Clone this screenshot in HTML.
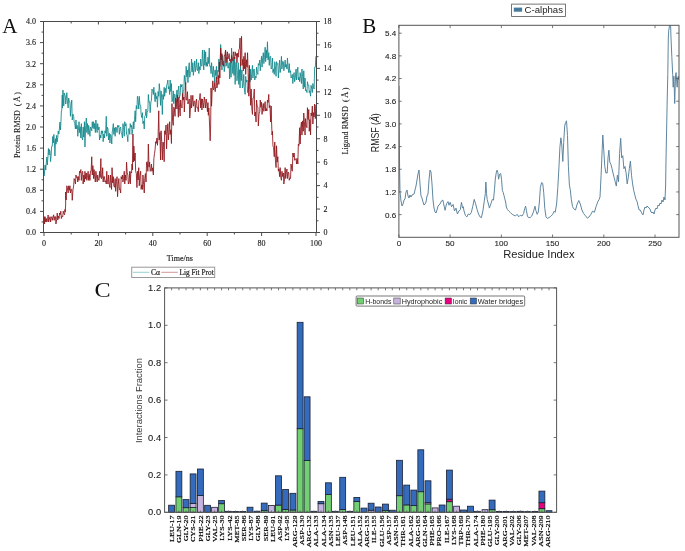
<!DOCTYPE html>
<html><head><meta charset="utf-8"><title>Figure</title>
<style>html,body{margin:0;padding:0;background:#fff;width:685px;height:551px;overflow:hidden}svg{display:block;will-change:transform;filter:blur(0.3px)}</style>
</head><body>
<svg width="685" height="551" viewBox="0 0 685 551"><filter id="bl" x="-5%" y="-5%" width="110%" height="110%"><feGaussianBlur stdDeviation="0.3"/></filter>
<polyline points="43.55,164 44.05,176 44.65,171 45.15,165 45.75,170 46.25,163 46.85,157 47.35,165 47.95,157 48.45,148.5 49.05,155 49.55,149.6 50.05,152 50.55,161.6 51.15,155 51.65,146.3 52.25,146.3 52.75,136.5 53.35,143 53.85,134.4 54.45,143 54.95,156 55.55,138.7 56.05,144.2 56.65,135.4 57.15,142 57.75,137.6 58.25,131 58.85,134 59.35,129 59.95,122 60.45,130 60.85,123.6 61.35,112 61.75,110 62.25,95 62.45,108 62.95,90 63.75,106 64.25,93 65.25,96 65.75,104 66.85,92.7 67.35,101 68.15,108 68.65,98 69.3,101.71 69.95,101.8 70.45,116.3 71.1,105.96 71.75,100 72.25,120 72.95,114.13 73.65,116.3 74.15,121.7 74.8,123.72 75.45,129 75.95,120 76.6,128.79 77.25,125.4 77.75,136.3 78.4,130.42 79.05,121.7 79.55,132.6 80.2,126.73 80.85,138 81.35,123.6 82,137.58 82.65,140 83.15,127 83.8,137.11 84.45,121.7 84.95,147 85.65,125.51 86.35,118 86.85,132.6 87.5,123.54 88.15,134.4 88.65,125.4 89.3,130.05 89.95,136.3 90.45,127 91.1,128.11 91.75,130.8 92.25,121.7 92.9,128.08 93.55,121.7 94.05,129 94.7,123.51 95.35,132.6 95.85,120 96.5,126.94 97.15,132.6 97.65,123.6 98.35,129.9 99.05,127 99.55,140 100.2,135 100.85,138 101.35,130.8 102,133.66 102.65,130.8 103.15,141.7 103.8,134.11 104.45,138 104.95,130.8 105.6,133.16 106.25,116.3 106.75,136.3 107.4,127.26 108.05,129 108.55,140 109.25,133.15 109.95,143 110.45,134.4 111.1,135.69 111.75,144 112.25,132 113.35,123.6 113.85,134.4 114.5,127.84 115.15,136.3 115.65,127 116.35,127.89 117.05,132.6 117.55,125.4 118.2,126.96 118.85,125.4 119.35,134.4 120,128.17 120.65,127 121.15,132.6 121.8,134.07 122.45,138 122.95,123.6 123.6,127.63 124.25,136.3 124.75,121.7 125.4,126.06 126.05,123.6 126.55,134.4 127.2,135.51 127.85,141.7 128.35,129 129.05,128.42 129.75,134.4 130.25,123.6 130.9,127.18 131.55,125.4 132.05,134.4 132.7,129.4 133.35,121.7 133.85,129 134.5,119.32 135.15,110.8 135.65,121.7 136.3,105.58 136.95,109 137.45,96.3 138.1,100.04 138.75,109 139.25,96.3 139.95,105.18 140.65,105.4 141.15,114.5 141.8,117.72 142.45,112.7 142.95,123.6 143.6,121.1 144.25,129 144.75,116.3 145.4,115.32 146.05,109 146.55,118 147.2,112.21 147.85,110.8 148.35,94.5 149,102.22 149.65,101.8 150.15,112.7 150.8,102.97 151.45,100 151.95,89 152.65,90.49 153.35,94.5 153.85,87.3 154.5,96.57 155.15,101.8 155.65,92.7 156.3,98.87 156.95,96.3 157.45,107.2 158.1,91.5 158.75,96.3 159.25,83.6 159.9,91.2 160.55,105.4 161.05,90.9 161.7,97.97 162.35,114.5 162.85,94.5 163.5,99.27 164.15,87.3 164.65,96.3 165.35,88.31 166.05,92.7 166.55,85.4 167.2,83.96 167.85,80 168.35,89 169,86.43 169.65,94.5 170.15,80 170.8,91.47 171.45,83.6 171.95,101.8 172.6,100.13 173.25,90.9 173.75,103.6 174.4,94.24 175.05,94.5 175.55,109 176.25,98.25 176.95,90 177.45,101.8 178.1,90.87 178.75,86 179.25,98 180.15,95.3 180.65,84.4 181.35,87.02 182.05,84.4 182.55,99 183.2,91.77 183.85,90 184.35,75.4 185,81.08 185.65,84.4 186.15,66.3 186.8,76.86 187.45,70 187.95,82.6 188.6,68.09 189.25,62.7 189.75,77.2 190.4,72.11 191.05,71.7 191.55,59 192.2,71.9 192.85,62.7 193.35,75.4 194.05,68.96 194.75,60.9 195.25,71.7 195.9,67.41 196.55,59 197.05,70 197.7,70.7 198.35,62.7 198.85,73.6 199.5,66.73 200.15,70 200.65,59 201.3,65.7 201.95,66.3 202.45,50 203.1,62.03 203.75,70 204.25,50 204.95,65.25 205.65,51.8 206.15,66.3 206.8,62.15 207.45,66.3 207.95,57.2 208.6,63.53 209.25,48.1 209.75,66.3 210.4,66.06 211.05,73.6 211.55,62.7 212.2,70.58 212.85,77.2 213.35,66.3 214,72.92 214.65,82.6 215.15,70 215.8,75.58 216.45,66.3 216.95,79 217.65,70.42 218.35,71.7 218.85,59 219.5,65.62 220.15,66.3 220.65,44.5 221.3,57.43 221.95,70 222.45,55.4 223.1,65.32 223.75,60.9 224.25,71.7 224.9,65.89 225.55,50 226.05,66.3 226.7,63.12 227.35,57.2 227.85,68.1 228.5,67.85 229.15,62.7 229.65,79 230.35,61.85 231.05,77.2 231.55,48.1 232.2,63.97 232.85,73.6 233.35,57.2 234,75.43 234.65,57.2 235.15,84.4 235.8,62.42 236.45,62.7 236.95,80.8 237.6,75.49 238.25,62.7 238.75,84.4 239.4,69.61 240.05,88 240.55,66.3 241.25,80.62 241.95,70 242.45,88 243.1,85.05 243.75,74.4 244.25,88 245.15,94.4 245.65,76.3 246.35,82.12 247.05,80 247.55,92.6 248.2,87.33 248.85,89 249.35,74.4 250,81.99 250.65,69 251.15,80 251.8,73.88 252.45,65.4 252.95,78 253.6,69.67 254.25,69 254.75,80 255.4,76.47 256.05,78 256.55,67 257.2,72.59 257.85,74.4 258.35,63.6 259.05,65.27 259.75,60 260.25,70.8 260.9,63.15 261.55,56.3 262.05,67.2 262.7,57.46 263.35,52.7 263.85,63.6 264.5,57.58 265.15,47.2 265.65,61.7 266.3,49.91 266.95,58 267.45,41.8 268.1,60.05 268.75,52.7 269.25,65.4 269.95,56.53 270.65,56.3 271.15,69 271.8,68.05 272.45,58 272.95,72.6 273.6,68.95 274.25,74.4 274.75,61.7 275.4,66.44 276.05,76.3 276.55,61.7 277.2,64.32 277.85,63.6 278.35,78 279,68.06 279.65,60 280.15,72.6 280.8,67.81 281.45,56.3 281.95,69 282.65,61.32 283.35,61.7 283.85,70.8 284.5,65.77 285.15,60 285.65,67.2 286.3,64.5 286.95,69 287.45,58 288.1,68.26 288.75,72.6 289.25,63.6 289.9,72.45 290.55,70.8 291.05,78 291.7,76.51 292.35,74.4 292.85,83.5 293.5,74.49 294.15,72.6 294.65,81.7 295.35,77.55 296.05,69 296.55,80 297.2,71.88 297.85,67.2 298.35,80 299,77.1 299.65,81.7 300.15,72.6 300.8,77.78 301.45,83.5 301.95,69 302.6,76.68 303.25,89 303.75,70.8 304.4,87.19 305.05,78 305.55,90.8 306.25,89.88 306.95,92.6 307.45,81.7 308.1,85.36 308.75,85.3 309.25,92.6 309.9,90.76 310.55,96.2 311.05,85.3 311.7,88.41 312.35,92.6 312.85,83.5 313.5,87.76 314.15,89 314.65,67.2 315.35,67.2 315.85,56.3" fill="none" stroke="#13868a" stroke-width="0.85" filter="url(#bl)" stroke-linejoin="round"/>
<polyline points="43.55,224 44.05,216.7 44.55,224 45.05,216.7 45.7,222 46.35,218.5 46.85,222 47.5,219.76 48.15,215 48.65,222 49.35,219.07 50.05,216.7 50.55,222 51.2,217.83 51.85,216.7 52.35,220.3 53,217.01 53.65,214.8 54.15,220.3 54.8,216.52 55.45,216.7 55.95,224 56.6,219.63 57.25,213 57.75,220 58.4,216.19 59.05,218.5 59.55,213 60.2,214.58 60.85,211.2 61.35,218.5 62.05,215.85 62.75,216.7 63.25,211.2 63.9,213.71 64.55,214.8 65.05,209.4 65.15,212 65.65,205 65.65,192 66.15,200 66.35,194.9 66.85,185.8 67.5,189.02 68.15,193 68.65,185.8 69.3,190.32 69.95,185.8 70.45,193 71.1,189.13 71.75,189.4 72.25,200.3 72.95,190.1 73.65,185.8 74.15,178.6 74.8,180.51 75.45,184 75.95,175 76.6,177.61 77.25,176.7 77.75,182 78.4,176.58 79.05,180.4 79.55,171.3 80.2,172.96 80.85,169.5 81.35,180.4 82,172.51 82.65,171.3 83.15,184 83.8,175.05 84.45,182 84.95,171.3 85.65,179 86.35,173 86.85,180.4 87.5,175.41 88.15,171.3 88.65,180.4 89.3,174.43 89.95,180.4 90.45,171.3 91.1,171.41 91.75,156.8 92.25,175 92.9,165.68 93.55,178.6 94.05,169.5 94.7,176.99 95.35,182 95.85,171.3 96.5,175.72 97.15,182 97.65,175 98.35,179.87 99.05,180.4 99.55,171.3 100.2,177.41 100.85,158.6 101.35,178.6 102,178.24 102.65,167.7 103.15,182 103.8,176.44 104.45,176.7 104.95,182 105.6,180.73 106.25,184 106.75,171.3 107.4,182.69 108.05,184 108.55,175 109.25,184.28 109.95,187.6 110.45,175 111.55,189.4 112.05,167.7 112.7,182.97 113.35,176.7 113.85,185.8 114.5,187.24 115.15,178.6 115.65,191.3 116.35,181.81 117.05,176.7 117.55,196.7 118.2,184.93 118.85,178.6 119.35,189.4 120,189.12 120.65,193 121.15,176.7 121.8,179.03 122.45,175 122.95,182 123.6,178.3 124.25,171.3 124.75,184 125.4,175.01 126.05,180.4 126.55,162.2 127.2,172.71 127.85,175 128.35,184 129.05,182.05 129.75,171.3 130.25,184 130.9,171.71 131.55,173 132.05,164 132.45,170 132.95,134 133.35,162 133.85,146 134.5,160.65 135.15,153 135.65,171.3 136.3,173.47 136.95,187.6 137.45,171.3 138.1,180.02 138.75,167.7 139.25,185.8 139.95,175.59 140.65,171.3 141.15,189.4 141.8,184.81 142.45,189.4 142.95,175 143.6,184.58 144.25,193 144.75,178.6 145.4,173.59 146.05,182 146.55,162.2 147.2,161.72 147.85,171.3 148.35,144 149,167.08 149.65,162.2 150.15,171.3 150.8,170.16 151.45,164 151.95,171.3 152.65,167.81 153.35,175 153.85,158.6 154.5,153.56 155.15,149 155.65,141.7 156.3,143.33 156.95,138 157.45,145.3 158.1,136.71 158.75,110.8 159.25,140 159.9,132.53 160.55,160 161.05,130.8 161.7,141.44 162.35,160 162.85,142 163.5,142.83 164.15,161.7 164.65,130.8 165.35,134.45 166.05,125 166.55,149 167.2,133.15 167.85,123.6 168.35,140 169,132.25 169.65,121.7 170.15,134.4 170.8,129.78 171.45,143.5 171.95,103.6 172.6,121.22 173.25,125.4 173.75,107.2 174.4,108.77 175.05,116.3 175.55,98 176.25,99.36 176.95,109 177.45,95.3 178.35,117.2 178.85,97.3 179.5,107.59 180.15,116 180.65,100 181.35,106.49 182.05,108 182.55,93.5 183.2,100.17 183.85,97 184.35,112 185,95.95 185.65,82.6 186.15,100 186.8,100.04 187.45,91.7 187.95,104 188.6,101.77 189.25,99 189.75,118 190.4,109.09 191.05,95.3 191.55,108 192.2,101.71 192.85,95.3 193.35,106.2 194.05,101.61 194.75,100.8 195.25,112 195.9,102.67 196.55,99 197.05,108 197.7,107.68 198.35,111.7 198.85,100.8 199.5,99.54 200.15,93.5 200.65,108 201.3,98.76 201.95,110 202.45,99 203.1,102.99 203.75,108 204.25,97 204.95,101.07 205.65,108 206.15,99 206.8,103.5 207.45,111.7 207.95,102.6 208.35,115.3 208.85,108 209.25,117 209.75,130 210.15,140.8 210.65,126 211.05,88 211.55,106.2 212.2,89.74 212.85,80.8 213.35,90 214,88.75 214.65,82.6 215.15,91.7 215.8,86.77 216.45,77.2 216.95,88 217.65,82.67 218.35,75.4 218.85,84.4 219.35,62 219.85,78 220.15,66.3 220.65,48 221.3,59.91 221.95,53.6 222.45,64.5 223.1,64.1 223.75,66.3 224.25,55.4 224.9,55.6 225.55,50 226.05,62.7 226.7,56.76 227.35,51.8 227.85,59 228.5,57.67 229.15,53.6 229.65,60.9 230.35,59.37 231.05,62.7 231.55,55.4 232.2,59.48 232.85,60.9 233.35,51.8 234,56.55 234.65,59 235.15,51.8 235.8,55.65 236.45,53.6 236.95,62.7 237.6,53.22 238.25,57.2 238.75,50 239.4,48.7 240.05,38 240.55,66.3 241.55,36.3 242.05,65.4 242.7,59.29 243.35,70.8 243.85,56.3 244.5,68.75 245.15,52.7 245.65,74.4 246.35,59.75 247.05,67.2 247.55,52.7 248.2,74.81 248.85,96.2 249.35,65.4 250,85.43 250.65,105.3 251.15,89 251.8,107.97 252.45,114.4 252.95,98 253.6,97.91 254.25,89 254.75,116 255.4,112.12 256.05,122 256.55,100 257.2,106.2 257.85,107 258.35,126 259.05,113.79 259.75,111.3 260.25,100 260.9,107.33 261.55,102.3 262.05,114.4 262.7,107.13 263.35,103.5 263.85,111.3 264.5,105.61 265.15,101.7 265.65,111 266.3,108.55 266.95,111 267.45,100 268.1,102.44 268.75,94.4 269.25,107.7 269.95,105.36 270.65,122 271.15,106 271.55,122 272.05,135 272.45,131.3 272.95,145.8 273.6,147.71 274.25,156.7 274.75,142 275.4,159.85 276.05,167.6 276.55,145.8 277.2,162.11 277.85,156.7 278.35,171.2 279,169.07 279.65,176.7 280.15,167.6 280.8,177.45 281.45,180.3 281.95,171.2 282.65,176.56 283.35,173 283.85,184 284.5,178.76 285.15,167.6 285.65,178.5 286.3,172.44 286.95,169 287.45,178.5 288.1,172.07 288.75,173 289.25,180.3 289.9,178.09 290.55,178.5 291.05,164 291.7,169.41 292.35,171.2 292.85,153 293.5,157.06 294.15,153 294.65,160.3 295.35,159.47 296.05,158.5 296.55,164 297.2,158.52 297.85,164 298.35,144 299,145.54 299.65,127.7 300.15,144 300.8,127.11 301.45,122 301.95,135 302.6,120.89 303.25,131.3 303.75,113 304.4,121.83 305.05,135 305.55,118.6 306.25,125.89 306.95,127.7 307.45,107.7 308.1,119.58 308.75,109.5 309.25,131.3 309.9,119.52 310.55,135 311.05,113 311.7,115.8 312.35,106 312.85,124 313.5,112.62 314.15,116.8 314.65,104 315.35,118.6 315.85,105" fill="none" stroke="#8e1419" stroke-width="0.85" filter="url(#bl)" stroke-linejoin="round"/>
<rect x="43.5" y="21.5" width="273.0" height="211.0" fill="none" stroke="#4a4a4a" stroke-width="1"/>
<text x="36" y="235.3" font-family='"Liberation Serif", serif' font-size="8" text-anchor="end" fill="#1a1a1a" stroke="#1a1a1a" stroke-width="0.12">0.0</text>
<text x="36" y="214.2" font-family='"Liberation Serif", serif' font-size="8" text-anchor="end" fill="#1a1a1a" stroke="#1a1a1a" stroke-width="0.12">0.4</text>
<text x="36" y="193.1" font-family='"Liberation Serif", serif' font-size="8" text-anchor="end" fill="#1a1a1a" stroke="#1a1a1a" stroke-width="0.12">0.8</text>
<text x="36" y="172" font-family='"Liberation Serif", serif' font-size="8" text-anchor="end" fill="#1a1a1a" stroke="#1a1a1a" stroke-width="0.12">1.2</text>
<text x="36" y="150.9" font-family='"Liberation Serif", serif' font-size="8" text-anchor="end" fill="#1a1a1a" stroke="#1a1a1a" stroke-width="0.12">1.6</text>
<text x="36" y="129.8" font-family='"Liberation Serif", serif' font-size="8" text-anchor="end" fill="#1a1a1a" stroke="#1a1a1a" stroke-width="0.12">2.0</text>
<text x="36" y="108.7" font-family='"Liberation Serif", serif' font-size="8" text-anchor="end" fill="#1a1a1a" stroke="#1a1a1a" stroke-width="0.12">2.4</text>
<text x="36" y="87.6" font-family='"Liberation Serif", serif' font-size="8" text-anchor="end" fill="#1a1a1a" stroke="#1a1a1a" stroke-width="0.12">2.8</text>
<text x="36" y="66.5" font-family='"Liberation Serif", serif' font-size="8" text-anchor="end" fill="#1a1a1a" stroke="#1a1a1a" stroke-width="0.12">3.2</text>
<text x="36" y="45.4" font-family='"Liberation Serif", serif' font-size="8" text-anchor="end" fill="#1a1a1a" stroke="#1a1a1a" stroke-width="0.12">3.6</text>
<text x="36" y="24.3" font-family='"Liberation Serif", serif' font-size="8" text-anchor="end" fill="#1a1a1a" stroke="#1a1a1a" stroke-width="0.12">4.0</text>
<text x="323.5" y="235.3" font-family='"Liberation Serif", serif' font-size="8" fill="#1a1a1a" stroke="#1a1a1a" stroke-width="0.12">0</text>
<text x="323.5" y="211.86" font-family='"Liberation Serif", serif' font-size="8" fill="#1a1a1a" stroke="#1a1a1a" stroke-width="0.12">2</text>
<text x="323.5" y="188.41" font-family='"Liberation Serif", serif' font-size="8" fill="#1a1a1a" stroke="#1a1a1a" stroke-width="0.12">4</text>
<text x="323.5" y="164.97" font-family='"Liberation Serif", serif' font-size="8" fill="#1a1a1a" stroke="#1a1a1a" stroke-width="0.12">6</text>
<text x="323.5" y="141.52" font-family='"Liberation Serif", serif' font-size="8" fill="#1a1a1a" stroke="#1a1a1a" stroke-width="0.12">8</text>
<text x="323.5" y="118.08" font-family='"Liberation Serif", serif' font-size="8" fill="#1a1a1a" stroke="#1a1a1a" stroke-width="0.12">10</text>
<text x="323.5" y="94.63" font-family='"Liberation Serif", serif' font-size="8" fill="#1a1a1a" stroke="#1a1a1a" stroke-width="0.12">12</text>
<text x="323.5" y="71.19" font-family='"Liberation Serif", serif' font-size="8" fill="#1a1a1a" stroke="#1a1a1a" stroke-width="0.12">14</text>
<text x="323.5" y="47.74" font-family='"Liberation Serif", serif' font-size="8" fill="#1a1a1a" stroke="#1a1a1a" stroke-width="0.12">16</text>
<text x="323.5" y="24.3" font-family='"Liberation Serif", serif' font-size="8" fill="#1a1a1a" stroke="#1a1a1a" stroke-width="0.12">18</text>
<text x="44" y="246" font-family='"Liberation Serif", serif' font-size="8" text-anchor="middle" fill="#1a1a1a" stroke="#1a1a1a" stroke-width="0.12">0</text>
<text x="98.4" y="246" font-family='"Liberation Serif", serif' font-size="8" text-anchor="middle" fill="#1a1a1a" stroke="#1a1a1a" stroke-width="0.12">20</text>
<text x="152.8" y="246" font-family='"Liberation Serif", serif' font-size="8" text-anchor="middle" fill="#1a1a1a" stroke="#1a1a1a" stroke-width="0.12">40</text>
<text x="207.2" y="246" font-family='"Liberation Serif", serif' font-size="8" text-anchor="middle" fill="#1a1a1a" stroke="#1a1a1a" stroke-width="0.12">60</text>
<text x="261.6" y="246" font-family='"Liberation Serif", serif' font-size="8" text-anchor="middle" fill="#1a1a1a" stroke="#1a1a1a" stroke-width="0.12">80</text>
<text x="316" y="246" font-family='"Liberation Serif", serif' font-size="8" text-anchor="middle" fill="#1a1a1a" stroke="#1a1a1a" stroke-width="0.12">100</text>
<path d="M40 232.5H43.5M40 211.4H43.5M40 190.3H43.5M40 169.2H43.5M40 148.1H43.5M40 127H43.5M40 105.9H43.5M40 84.8H43.5M40 63.7H43.5M40 42.6H43.5M40 21.5H43.5M41.5 221.95H43.5M41.5 200.85H43.5M41.5 179.75H43.5M41.5 158.65H43.5M41.5 137.55H43.5M41.5 116.45H43.5M41.5 95.35H43.5M41.5 74.25H43.5M41.5 53.15H43.5M41.5 32.05H43.5M316.5 232.5H320M316.5 209.06H320M316.5 185.61H320M316.5 162.17H320M316.5 138.72H320M316.5 115.28H320M316.5 91.83H320M316.5 68.39H320M316.5 44.94H320M316.5 21.5H320M316.5 220.78H318.5M316.5 197.33H318.5M316.5 173.89H318.5M316.5 150.44H318.5M316.5 127H318.5M316.5 103.56H318.5M316.5 80.11H318.5M316.5 56.67H318.5M316.5 33.22H318.5M44 232.5V236M98.4 232.5V236M98.4 21.5V24.5M152.8 232.5V236M152.8 21.5V24.5M207.2 232.5V236M207.2 21.5V24.5M261.6 232.5V236M261.6 21.5V24.5M316 232.5V236M71.2 232.5V234.5M71.2 21.5V23.5M125.6 232.5V234.5M125.6 21.5V23.5M180 232.5V234.5M180 21.5V23.5M234.4 232.5V234.5M234.4 21.5V23.5M288.8 232.5V234.5M288.8 21.5V23.5" stroke="#4a4a4a" stroke-width="1" fill="none"/>
<text x="179.8" y="260.6" font-family='"Liberation Serif", serif' font-size="8" text-anchor="middle" fill="#1a1a1a" stroke="#1a1a1a" stroke-width="0.15">Time/ns</text>
<text transform="translate(19.6,125) rotate(-90)" font-family='"Liberation Serif", serif' font-size="8" text-anchor="middle" fill="#1a1a1a" stroke="#1a1a1a" stroke-width="0.12" textLength="66" lengthAdjust="spacingAndGlyphs">Protein RMSD ( Å )</text>
<text transform="translate(347.8,121) rotate(-90)" font-family='"Liberation Serif", serif' font-size="8" text-anchor="middle" fill="#1a1a1a" stroke="#1a1a1a" stroke-width="0.12" textLength="67" lengthAdjust="spacingAndGlyphs">Ligand RMSD ( Å )</text>
<rect x="131.7" y="267.2" width="83" height="10.3" fill="#fff" stroke="#999" stroke-width="1"/>
<path d="M132.8 272.3H149.4" stroke="#8ccccc" stroke-width="0.9"/>
<path d="M161.3 272.3H177.8" stroke="#cc8c8c" stroke-width="0.9"/>
<text x="151" y="275.3" font-family='"Liberation Serif", serif' font-size="7.8" fill="#222" stroke="#222" stroke-width="0.2" textLength="9" lengthAdjust="spacingAndGlyphs">Cα</text>
<text x="179.5" y="275.3" font-family='"Liberation Serif", serif' font-size="7.8" fill="#222" stroke="#222" stroke-width="0.2" textLength="34.2" lengthAdjust="spacingAndGlyphs">Lig Fit Prot</text>
<text x="2.2" y="32.6" font-family='"Liberation Serif", serif' font-size="21" fill="#111">A</text>
<clipPath id="cb"><rect x="398.9" y="25.3" width="280.1" height="212.0"/></clipPath>
<polyline clip-path="url(#cb)" points="399,86 399.3,130 399.6,170 400,192 401,201 402,206 403,204 404,200 405,199 406,192 407,190 408,196 409,198 410,195 411,197 412,195 414,194 415,190 416,186 417,180 418,174 419,170 420,184 421,196 422,198 423,202 424,205 425,204 426,202 427,196 428,194 429,180 430,170 431,172 432,184 433,200 434,208 435,212 436,213 437,210 438,206 440,204 441.5,200.9 442.9,200.1 443.6,203.8 445.1,210.3 446.5,203.8 448,201.6 449,205.2 450.2,202.3 451.6,206.7 453.1,204.5 454.5,211 456,208.1 457.4,214 458.9,211 460.3,209.6 461.5,202.3 462.5,208.1 463.3,206.7 464,211 465.4,215.4 466.9,216.9 468.3,214 469.8,214.7 471.3,212.5 472.7,206.7 474.2,199.4 475.6,203.8 477.1,209.6 478.5,214 480,216.9 481.4,217.6 482.9,211 484.3,200.9 485.3,193.6 485.9,182 486.5,193.6 487.2,199.4 488.7,205.2 489.4,208.1 490.9,203.8 492.3,199.4 493.5,200.1 494.5,189.2 495.3,179 496.2,173 497,170.2 497.9,172.7 498.6,179.2 499.6,174.3 500.7,173.5 501.5,179.2 502.4,190.7 503.2,192.3 504,195.6 504.8,198.8 505.6,202 506.4,207 507.3,209.4 508.9,211.1 510.5,212.7 512.2,214.3 513.8,215.2 515.4,216 517.1,214.3 518.7,216.8 520.3,215.2 522,216 523.6,213.5 524.7,208.6 525.6,206.2 526.4,210.3 527.4,216 528.5,217.6 530.1,217.6 531.8,216 533.4,211.9 535,206.2 535.8,210.3 537.2,214.3 538.3,211.9 539.4,202 540.4,187.4 541.6,182.5 542.7,183.3 543.7,192.3 544.8,208.6 546,216.8 547.3,218.4 548.9,217.6 550.6,216.5 552.4,214.7 554.3,211.1 555.2,212.3 556.6,204 557.8,187.5 559,166.2 559.9,147.3 560.9,137.8 561.8,145 562.8,161.5 563.7,142.6 564.7,126 565.6,122.5 566.5,120.8 567.5,135.5 568.4,166.2 569.4,185.1 570.3,189.8 571.3,199.3 572.5,206.4 573.6,208.7 575.5,210 577.2,204 578.8,200.5 580.3,204 581.9,210 583.6,213.5 585.5,215.8 587.4,218.2 589,217 590.7,214.7 592.6,211.1 594.4,212.3 596.1,206.4 597.8,201.7 599.2,199.3 600,197 601.1,175.2 602.2,149.1 602.8,135 603.7,149.1 604.8,166.5 605.9,173 607.2,173 608,157.8 608.9,150.2 609.8,162.2 610.9,164.3 612,168.7 613,173 614.1,177.4 615.2,181.7 616.3,186.1 617.4,175.2 618.5,181.7 619.6,153.5 620.7,138.3 621.7,157.8 622.8,155.7 623.9,168.7 625,166.5 626.1,173 627.2,183.9 628.3,177.4 629.3,168.7 630.4,161.1 631.5,175.2 632.6,183.9 633.7,190.4 634.8,194.8 635.9,199.1 637,201.3 638,205.7 639.1,210 640.2,210 641.3,212.2 642.4,214.3 643,215 644,210 645,207 646,208 647,206 648,207 649,208 650,209 651,212 652,213 653,212 654,214 655,210 656,208 657,209 658,205 659,206 660,203 661,204 662,200 663,202 664,197 665,200 665.6,186 666,160 666.4,140 666.8,120 667.2,100 667.8,74.4 668.3,38 668.7,30.9 669.3,27 669.9,22 670.5,22 671,38 671.8,56.3 672.7,74.4 673.2,87.2 673.6,80 673.9,76.3 674.3,89 674.7,103.5 675,92.6 675.6,74.4 676.1,72.6 676.7,81.7 677.2,87.2 677.7,78 678.3,76.3 678.9,80" fill="none" stroke="#567f9a" stroke-width="0.95" stroke-linejoin="round"/>
<rect x="398.9" y="25.3" width="280.1" height="212.0" fill="none" stroke="#555" stroke-width="1"/>
<text x="396.2" y="217.52" font-family='"Liberation Sans", sans-serif' font-size="8.1" text-anchor="end" fill="#222" stroke="#222" stroke-width="0.1">0.6</text>
<text x="396.2" y="194.84" font-family='"Liberation Sans", sans-serif' font-size="8.1" text-anchor="end" fill="#222" stroke="#222" stroke-width="0.1">1.2</text>
<text x="396.2" y="172.16" font-family='"Liberation Sans", sans-serif' font-size="8.1" text-anchor="end" fill="#222" stroke="#222" stroke-width="0.1">1.8</text>
<text x="396.2" y="149.48" font-family='"Liberation Sans", sans-serif' font-size="8.1" text-anchor="end" fill="#222" stroke="#222" stroke-width="0.1">2.4</text>
<text x="396.2" y="126.8" font-family='"Liberation Sans", sans-serif' font-size="8.1" text-anchor="end" fill="#222" stroke="#222" stroke-width="0.1">3.0</text>
<text x="396.2" y="104.12" font-family='"Liberation Sans", sans-serif' font-size="8.1" text-anchor="end" fill="#222" stroke="#222" stroke-width="0.1">3.6</text>
<text x="396.2" y="81.44" font-family='"Liberation Sans", sans-serif' font-size="8.1" text-anchor="end" fill="#222" stroke="#222" stroke-width="0.1">4.2</text>
<text x="396.2" y="58.76" font-family='"Liberation Sans", sans-serif' font-size="8.1" text-anchor="end" fill="#222" stroke="#222" stroke-width="0.1">4.8</text>
<text x="396.2" y="36.08" font-family='"Liberation Sans", sans-serif' font-size="8.1" text-anchor="end" fill="#222" stroke="#222" stroke-width="0.1">5.4</text>
<text x="398.9" y="246.2" font-family='"Liberation Sans", sans-serif' font-size="8.1" text-anchor="middle" fill="#222" stroke="#222" stroke-width="0.1">0</text>
<text x="450.12" y="246.2" font-family='"Liberation Sans", sans-serif' font-size="8.1" text-anchor="middle" fill="#222" stroke="#222" stroke-width="0.1">50</text>
<text x="501.35" y="246.2" font-family='"Liberation Sans", sans-serif' font-size="8.1" text-anchor="middle" fill="#222" stroke="#222" stroke-width="0.1">100</text>
<text x="552.57" y="246.2" font-family='"Liberation Sans", sans-serif' font-size="8.1" text-anchor="middle" fill="#222" stroke="#222" stroke-width="0.1">150</text>
<text x="603.8" y="246.2" font-family='"Liberation Sans", sans-serif' font-size="8.1" text-anchor="middle" fill="#222" stroke="#222" stroke-width="0.1">200</text>
<text x="655.02" y="246.2" font-family='"Liberation Sans", sans-serif' font-size="8.1" text-anchor="middle" fill="#222" stroke="#222" stroke-width="0.1">250</text>
<path d="M398.9 214.62h2.8M679 214.62h-2.8M398.9 191.94h2.8M679 191.94h-2.8M398.9 169.26h2.8M679 169.26h-2.8M398.9 146.58h2.8M679 146.58h-2.8M398.9 123.9h2.8M679 123.9h-2.8M398.9 101.22h2.8M679 101.22h-2.8M398.9 78.54h2.8M679 78.54h-2.8M398.9 55.86h2.8M679 55.86h-2.8M398.9 33.18h2.8M679 33.18h-2.8M398.9 237.3v-2.8M398.9 25.3v2.8M450.12 237.3v-2.8M450.12 25.3v2.8M501.35 237.3v-2.8M501.35 25.3v2.8M552.57 237.3v-2.8M552.57 25.3v2.8M603.8 237.3v-2.8M603.8 25.3v2.8M655.02 237.3v-2.8M655.02 25.3v2.8" stroke="#555" stroke-width="0.8" fill="none"/>
<text x="538.9" y="258" font-family='"Liberation Sans", sans-serif' font-size="10" text-anchor="middle" fill="#222" textLength="71.5" lengthAdjust="spacingAndGlyphs">Residue Index</text>
<text transform="translate(378.7,132.7) rotate(-90)" font-family='"Liberation Sans", sans-serif' font-size="10.6" text-anchor="middle" fill="#222" textLength="39" lengthAdjust="spacingAndGlyphs">RMSF (<tspan font-style="italic">Å</tspan>)</text>
<rect x="511.6" y="4.1" width="54" height="12.3" fill="#fff" stroke="#555" stroke-width="0.8"/>
<rect x="513.8" y="7.6" width="8.3" height="4.1" fill="#46799b"/>
<text x="524.6" y="12.9" font-family='"Liberation Sans", sans-serif' font-size="8.6" fill="#222" textLength="38.4" lengthAdjust="spacingAndGlyphs">C-alphas</text>
<text x="362.2" y="33.3" font-family='"Liberation Serif", serif' font-size="21" fill="#111">B</text>
<rect x="168.65" y="505.2" width="5.9" height="7.1" fill="#346bbc" stroke="#1a2030" stroke-width="0.8"/>
<rect x="175.95" y="496.8" width="5.9" height="15.5" fill="#72cf72" stroke="#1a2030" stroke-width="0.8"/>
<rect x="175.95" y="471.3" width="5.9" height="25.5" fill="#346bbc" stroke="#1a2030" stroke-width="0.8"/>
<rect x="183.05" y="507.7" width="5.9" height="4.6" fill="#72cf72" stroke="#1a2030" stroke-width="0.8"/>
<rect x="183.05" y="499.6" width="5.9" height="8.1" fill="#346bbc" stroke="#1a2030" stroke-width="0.8"/>
<rect x="190.15" y="507.6" width="5.9" height="4.7" fill="#72cf72" stroke="#1a2030" stroke-width="0.8"/>
<rect x="190.15" y="503.6" width="5.9" height="4" fill="#c6b4df" stroke="#1a2030" stroke-width="0.8"/>
<rect x="190.15" y="473.9" width="5.9" height="29.7" fill="#346bbc" stroke="#1a2030" stroke-width="0.8"/>
<rect x="197.45" y="495.6" width="5.9" height="16.7" fill="#c6b4df" stroke="#1a2030" stroke-width="0.8"/>
<rect x="197.45" y="469" width="5.9" height="26.6" fill="#346bbc" stroke="#1a2030" stroke-width="0.8"/>
<rect x="204.65" y="505.3" width="5.9" height="7" fill="#346bbc" stroke="#1a2030" stroke-width="0.8"/>
<rect x="211.65" y="507.3" width="5.9" height="5" fill="#c6b4df" stroke="#1a2030" stroke-width="0.8"/>
<rect x="218.65" y="503.7" width="5.9" height="8.6" fill="#72cf72" stroke="#1a2030" stroke-width="0.8"/>
<rect x="218.65" y="500.5" width="5.9" height="3.2" fill="#346bbc" stroke="#1a2030" stroke-width="0.8"/>
<rect x="225.55" y="511.3" width="5.9" height="1" fill="#346bbc" stroke="#1a2030" stroke-width="0.8"/>
<rect x="232.65" y="511.5" width="5.9" height="0.8" fill="#346bbc" stroke="#1a2030" stroke-width="0.8"/>
<rect x="239.75" y="511.5" width="5.9" height="0.8" fill="#346bbc" stroke="#1a2030" stroke-width="0.8"/>
<rect x="247.05" y="507.2" width="5.9" height="5.1" fill="#346bbc" stroke="#1a2030" stroke-width="0.8"/>
<rect x="254.05" y="511.2" width="5.9" height="1.1" fill="#346bbc" stroke="#1a2030" stroke-width="0.8"/>
<rect x="261.25" y="510.6" width="5.9" height="1.7" fill="#72cf72" stroke="#1a2030" stroke-width="0.8"/>
<rect x="261.25" y="503.1" width="5.9" height="7.5" fill="#346bbc" stroke="#1a2030" stroke-width="0.8"/>
<rect x="268.45" y="505.4" width="5.9" height="6.9" fill="#c6b4df" stroke="#1a2030" stroke-width="0.8"/>
<rect x="275.55" y="505.1" width="5.9" height="7.2" fill="#72cf72" stroke="#1a2030" stroke-width="0.8"/>
<rect x="275.55" y="475.8" width="5.9" height="29.3" fill="#346bbc" stroke="#1a2030" stroke-width="0.8"/>
<rect x="282.65" y="509.5" width="5.9" height="2.8" fill="#72cf72" stroke="#1a2030" stroke-width="0.8"/>
<rect x="282.65" y="489.4" width="5.9" height="20.1" fill="#346bbc" stroke="#1a2030" stroke-width="0.8"/>
<rect x="289.95" y="510" width="5.9" height="2.3" fill="#72cf72" stroke="#1a2030" stroke-width="0.8"/>
<rect x="289.95" y="493.3" width="5.9" height="16.7" fill="#346bbc" stroke="#1a2030" stroke-width="0.8"/>
<rect x="297.15" y="428.7" width="5.9" height="83.6" fill="#72cf72" stroke="#1a2030" stroke-width="0.8"/>
<rect x="297.15" y="322.3" width="5.9" height="106.4" fill="#346bbc" stroke="#1a2030" stroke-width="0.8"/>
<rect x="304.15" y="460.4" width="5.9" height="51.9" fill="#72cf72" stroke="#1a2030" stroke-width="0.8"/>
<rect x="304.15" y="396.8" width="5.9" height="63.6" fill="#346bbc" stroke="#1a2030" stroke-width="0.8"/>
<rect x="310.95" y="511.3" width="5.9" height="1" fill="#346bbc" stroke="#1a2030" stroke-width="0.8"/>
<rect x="318.05" y="503.7" width="5.9" height="8.6" fill="#c6b4df" stroke="#1a2030" stroke-width="0.8"/>
<rect x="318.05" y="501.5" width="5.9" height="2.2" fill="#346bbc" stroke="#1a2030" stroke-width="0.8"/>
<rect x="325.45" y="494.6" width="5.9" height="17.7" fill="#72cf72" stroke="#1a2030" stroke-width="0.8"/>
<rect x="325.45" y="482.8" width="5.9" height="11.8" fill="#346bbc" stroke="#1a2030" stroke-width="0.8"/>
<rect x="332.45" y="511.3" width="5.9" height="1" fill="#346bbc" stroke="#1a2030" stroke-width="0.8"/>
<rect x="339.75" y="509.6" width="5.9" height="2.7" fill="#72cf72" stroke="#1a2030" stroke-width="0.8"/>
<rect x="339.75" y="477.3" width="5.9" height="32.3" fill="#346bbc" stroke="#1a2030" stroke-width="0.8"/>
<rect x="346.85" y="511.3" width="5.9" height="1" fill="#346bbc" stroke="#1a2030" stroke-width="0.8"/>
<rect x="353.85" y="501.4" width="5.9" height="10.9" fill="#72cf72" stroke="#1a2030" stroke-width="0.8"/>
<rect x="353.85" y="497.4" width="5.9" height="4" fill="#346bbc" stroke="#1a2030" stroke-width="0.8"/>
<rect x="361.05" y="508.1" width="5.9" height="4.2" fill="#346bbc" stroke="#1a2030" stroke-width="0.8"/>
<rect x="368.15" y="510.2" width="5.9" height="2.1" fill="#c6b4df" stroke="#1a2030" stroke-width="0.8"/>
<rect x="368.15" y="503.2" width="5.9" height="7" fill="#346bbc" stroke="#1a2030" stroke-width="0.8"/>
<rect x="375.25" y="507" width="5.9" height="5.3" fill="#346bbc" stroke="#1a2030" stroke-width="0.8"/>
<rect x="382.55" y="510.5" width="5.9" height="1.8" fill="#72cf72" stroke="#1a2030" stroke-width="0.8"/>
<rect x="382.55" y="504.1" width="5.9" height="6.4" fill="#346bbc" stroke="#1a2030" stroke-width="0.8"/>
<rect x="389.35" y="510.2" width="5.9" height="2.1" fill="#346bbc" stroke="#1a2030" stroke-width="0.8"/>
<rect x="396.55" y="495.7" width="5.9" height="16.6" fill="#72cf72" stroke="#1a2030" stroke-width="0.8"/>
<rect x="396.55" y="460.3" width="5.9" height="35.4" fill="#346bbc" stroke="#1a2030" stroke-width="0.8"/>
<rect x="403.75" y="504.9" width="5.9" height="7.4" fill="#72cf72" stroke="#1a2030" stroke-width="0.8"/>
<rect x="403.75" y="485.1" width="5.9" height="19.8" fill="#346bbc" stroke="#1a2030" stroke-width="0.8"/>
<rect x="410.85" y="505.4" width="5.9" height="6.9" fill="#72cf72" stroke="#1a2030" stroke-width="0.8"/>
<rect x="410.85" y="490.1" width="5.9" height="15.3" fill="#346bbc" stroke="#1a2030" stroke-width="0.8"/>
<rect x="417.85" y="491.7" width="5.9" height="20.6" fill="#72cf72" stroke="#1a2030" stroke-width="0.8"/>
<rect x="417.85" y="449.8" width="5.9" height="41.9" fill="#346bbc" stroke="#1a2030" stroke-width="0.8"/>
<rect x="425.05" y="503.9" width="5.9" height="8.4" fill="#72cf72" stroke="#1a2030" stroke-width="0.8"/>
<rect x="425.05" y="502.6" width="5.9" height="1.3" fill="#c6b4df" stroke="#1a2030" stroke-width="0.8"/>
<rect x="425.05" y="480.8" width="5.9" height="21.8" fill="#346bbc" stroke="#1a2030" stroke-width="0.8"/>
<rect x="432.15" y="507.9" width="5.9" height="4.4" fill="#c6b4df" stroke="#1a2030" stroke-width="0.8"/>
<rect x="439.15" y="505" width="5.9" height="7.3" fill="#346bbc" stroke="#1a2030" stroke-width="0.8"/>
<rect x="446.45" y="501.7" width="5.9" height="10.6" fill="#72cf72" stroke="#1a2030" stroke-width="0.8"/>
<rect x="446.45" y="499.2" width="5.9" height="2.5" fill="#e8007e" stroke="#1a2030" stroke-width="0.8"/>
<rect x="446.45" y="470.1" width="5.9" height="29.1" fill="#346bbc" stroke="#1a2030" stroke-width="0.8"/>
<rect x="453.65" y="506.2" width="5.9" height="6.1" fill="#c6b4df" stroke="#1a2030" stroke-width="0.8"/>
<rect x="460.55" y="510" width="5.9" height="2.3" fill="#346bbc" stroke="#1a2030" stroke-width="0.8"/>
<rect x="467.55" y="506.2" width="5.9" height="6.1" fill="#346bbc" stroke="#1a2030" stroke-width="0.8"/>
<rect x="474.55" y="511.3" width="5.9" height="1" fill="#c6b4df" stroke="#1a2030" stroke-width="0.8"/>
<rect x="482.05" y="509.7" width="5.9" height="2.6" fill="#c6b4df" stroke="#1a2030" stroke-width="0.8"/>
<rect x="489.15" y="509.7" width="5.9" height="2.6" fill="#72cf72" stroke="#1a2030" stroke-width="0.8"/>
<rect x="489.15" y="500.1" width="5.9" height="9.6" fill="#346bbc" stroke="#1a2030" stroke-width="0.8"/>
<rect x="496.25" y="511.4" width="5.9" height="0.9" fill="#346bbc" stroke="#1a2030" stroke-width="0.8"/>
<rect x="503.35" y="511.4" width="5.9" height="0.9" fill="#346bbc" stroke="#1a2030" stroke-width="0.8"/>
<rect x="510.45" y="511.6" width="5.9" height="0.7" fill="#346bbc" stroke="#1a2030" stroke-width="0.8"/>
<rect x="517.55" y="511.3" width="5.9" height="1" fill="#346bbc" stroke="#1a2030" stroke-width="0.8"/>
<rect x="524.65" y="511.6" width="5.9" height="0.7" fill="#346bbc" stroke="#1a2030" stroke-width="0.8"/>
<rect x="531.85" y="511.4" width="5.9" height="0.9" fill="#346bbc" stroke="#1a2030" stroke-width="0.8"/>
<rect x="538.95" y="508.7" width="5.9" height="3.6" fill="#72cf72" stroke="#1a2030" stroke-width="0.8"/>
<rect x="538.95" y="502.7" width="5.9" height="6" fill="#e8007e" stroke="#1a2030" stroke-width="0.8"/>
<rect x="538.95" y="491.1" width="5.9" height="11.6" fill="#346bbc" stroke="#1a2030" stroke-width="0.8"/>
<rect x="546.05" y="510.7" width="5.9" height="1.6" fill="#346bbc" stroke="#1a2030" stroke-width="0.8"/>
<rect x="164.6" y="287.9" width="392.0" height="224.39999999999998" fill="none" stroke="#555" stroke-width="1"/>
<text x="161.1" y="515.3" font-family='"Liberation Sans", sans-serif' font-size="8.6" text-anchor="end" fill="#222" stroke="#222" stroke-width="0.1" textLength="13" lengthAdjust="spacingAndGlyphs">0.0</text>
<text x="161.1" y="477.9" font-family='"Liberation Sans", sans-serif' font-size="8.6" text-anchor="end" fill="#222" stroke="#222" stroke-width="0.1" textLength="13" lengthAdjust="spacingAndGlyphs">0.2</text>
<text x="161.1" y="440.5" font-family='"Liberation Sans", sans-serif' font-size="8.6" text-anchor="end" fill="#222" stroke="#222" stroke-width="0.1" textLength="13" lengthAdjust="spacingAndGlyphs">0.4</text>
<text x="161.1" y="403.1" font-family='"Liberation Sans", sans-serif' font-size="8.6" text-anchor="end" fill="#222" stroke="#222" stroke-width="0.1" textLength="13" lengthAdjust="spacingAndGlyphs">0.6</text>
<text x="161.1" y="365.7" font-family='"Liberation Sans", sans-serif' font-size="8.6" text-anchor="end" fill="#222" stroke="#222" stroke-width="0.1" textLength="13" lengthAdjust="spacingAndGlyphs">0.8</text>
<text x="161.1" y="328.3" font-family='"Liberation Sans", sans-serif' font-size="8.6" text-anchor="end" fill="#222" stroke="#222" stroke-width="0.1" textLength="13" lengthAdjust="spacingAndGlyphs">1.0</text>
<text x="161.1" y="290.9" font-family='"Liberation Sans", sans-serif' font-size="8.6" text-anchor="end" fill="#222" stroke="#222" stroke-width="0.1" textLength="13" lengthAdjust="spacingAndGlyphs">1.2</text>
<path d="M164.6 512.3h3M556.6 512.3h-3M164.6 474.9h3M556.6 474.9h-3M164.6 437.5h3M556.6 437.5h-3M164.6 400.1h3M556.6 400.1h-3M164.6 362.7h3M556.6 362.7h-3M164.6 325.3h3M556.6 325.3h-3M164.6 287.9h3M556.6 287.9h-3M171.6 287.9v2.4M171.6 512.3v-1.8M178.9 287.9v2.4M178.9 512.3v-1.8M186 287.9v2.4M186 512.3v-1.8M193.1 287.9v2.4M193.1 512.3v-1.8M200.4 287.9v2.4M200.4 512.3v-1.8M207.6 287.9v2.4M207.6 512.3v-1.8M214.6 287.9v2.4M214.6 512.3v-1.8M221.6 287.9v2.4M221.6 512.3v-1.8M228.5 287.9v2.4M228.5 512.3v-1.8M235.6 287.9v2.4M235.6 512.3v-1.8M242.7 287.9v2.4M242.7 512.3v-1.8M250 287.9v2.4M250 512.3v-1.8M257 287.9v2.4M257 512.3v-1.8M264.2 287.9v2.4M264.2 512.3v-1.8M271.4 287.9v2.4M271.4 512.3v-1.8M278.5 287.9v2.4M278.5 512.3v-1.8M285.6 287.9v2.4M285.6 512.3v-1.8M292.9 287.9v2.4M292.9 512.3v-1.8M300.1 287.9v2.4M300.1 512.3v-1.8M307.1 287.9v2.4M307.1 512.3v-1.8M313.9 287.9v2.4M313.9 512.3v-1.8M321 287.9v2.4M321 512.3v-1.8M328.4 287.9v2.4M328.4 512.3v-1.8M335.4 287.9v2.4M335.4 512.3v-1.8M342.7 287.9v2.4M342.7 512.3v-1.8M349.8 287.9v2.4M349.8 512.3v-1.8M356.8 287.9v2.4M356.8 512.3v-1.8M364 287.9v2.4M364 512.3v-1.8M371.1 287.9v2.4M371.1 512.3v-1.8M378.2 287.9v2.4M378.2 512.3v-1.8M385.5 287.9v2.4M385.5 512.3v-1.8M392.3 287.9v2.4M392.3 512.3v-1.8M399.5 287.9v2.4M399.5 512.3v-1.8M406.7 287.9v2.4M406.7 512.3v-1.8M413.8 287.9v2.4M413.8 512.3v-1.8M420.8 287.9v2.4M420.8 512.3v-1.8M428 287.9v2.4M428 512.3v-1.8M435.1 287.9v2.4M435.1 512.3v-1.8M442.1 287.9v2.4M442.1 512.3v-1.8M449.4 287.9v2.4M449.4 512.3v-1.8M456.6 287.9v2.4M456.6 512.3v-1.8M463.5 287.9v2.4M463.5 512.3v-1.8M470.5 287.9v2.4M470.5 512.3v-1.8M477.5 287.9v2.4M477.5 512.3v-1.8M485 287.9v2.4M485 512.3v-1.8M492.1 287.9v2.4M492.1 512.3v-1.8M499.2 287.9v2.4M499.2 512.3v-1.8M506.3 287.9v2.4M506.3 512.3v-1.8M513.4 287.9v2.4M513.4 512.3v-1.8M520.5 287.9v2.4M520.5 512.3v-1.8M527.6 287.9v2.4M527.6 512.3v-1.8M534.8 287.9v2.4M534.8 512.3v-1.8M541.9 287.9v2.4M541.9 512.3v-1.8M549 287.9v2.4M549 512.3v-1.8" stroke="#555" stroke-width="0.8" fill="none"/>
<text transform="translate(142.3,400.6) rotate(-90)" font-family='"Liberation Sans", sans-serif' font-size="9.4" text-anchor="middle" fill="#333" textLength="85" lengthAdjust="spacingAndGlyphs">Interactions Fraction</text>
<rect x="356.1" y="296" width="168.6" height="10.1" rx="1" fill="#fff" stroke="#555" stroke-width="0.8"/>
<rect x="357.2" y="298" width="6.4" height="6" fill="#72cf72" stroke="#333" stroke-width="0.5"/>
<text x="365.2" y="304.2" font-family='"Liberation Sans", sans-serif' font-size="7.8" fill="#222" textLength="26.2" lengthAdjust="spacingAndGlyphs">H-bonds</text>
<rect x="393.8" y="298" width="6.4" height="6" fill="#c6b4df" stroke="#333" stroke-width="0.5"/>
<text x="401.7" y="304.2" font-family='"Liberation Sans", sans-serif' font-size="7.8" fill="#222" textLength="40.6" lengthAdjust="spacingAndGlyphs">Hydrophobic</text>
<rect x="445.1" y="298" width="6.4" height="6" fill="#e8007e" stroke="#333" stroke-width="0.5"/>
<text x="452.8" y="304.2" font-family='"Liberation Sans", sans-serif' font-size="7.8" fill="#222" textLength="14.5" lengthAdjust="spacingAndGlyphs">Ionic</text>
<rect x="470.2" y="298" width="6.4" height="6" fill="#346bbc" stroke="#333" stroke-width="0.5"/>
<text x="477.7" y="304.2" font-family='"Liberation Sans", sans-serif' font-size="7.8" fill="#222" textLength="45.4" lengthAdjust="spacingAndGlyphs">Water bridges</text>
<text transform="translate(173.6,515.3) rotate(-90) scale(1,0.86)" font-family='"Liberation Serif", serif' font-size="8.2" text-anchor="end" fill="#000" stroke="#000" stroke-width="0.22">LEU-17</text>
<text transform="translate(180.84,515.3) rotate(-90) scale(1,0.86)" font-family='"Liberation Serif", serif' font-size="8.2" text-anchor="end" fill="#000" stroke="#000" stroke-width="0.22">GLN-19</text>
<text transform="translate(188.08,515.3) rotate(-90) scale(1,0.86)" font-family='"Liberation Serif", serif' font-size="8.2" text-anchor="end" fill="#000" stroke="#000" stroke-width="0.22">GLY-20</text>
<text transform="translate(195.32,515.3) rotate(-90) scale(1,0.86)" font-family='"Liberation Serif", serif' font-size="8.2" text-anchor="end" fill="#000" stroke="#000" stroke-width="0.22">CYS-21</text>
<text transform="translate(202.56,515.3) rotate(-90) scale(1,0.86)" font-family='"Liberation Serif", serif' font-size="8.2" text-anchor="end" fill="#000" stroke="#000" stroke-width="0.22">PHE-22</text>
<text transform="translate(209.8,515.3) rotate(-90) scale(1,0.86)" font-family='"Liberation Serif", serif' font-size="8.2" text-anchor="end" fill="#000" stroke="#000" stroke-width="0.22">GLY-23</text>
<text transform="translate(217.04,515.3) rotate(-90) scale(1,0.86)" font-family='"Liberation Serif", serif' font-size="8.2" text-anchor="end" fill="#000" stroke="#000" stroke-width="0.22">VAL-25</text>
<text transform="translate(224.28,515.3) rotate(-90) scale(1,0.86)" font-family='"Liberation Serif", serif' font-size="8.2" text-anchor="end" fill="#000" stroke="#000" stroke-width="0.22">LYS-30</text>
<text transform="translate(231.52,515.3) rotate(-90) scale(1,0.86)" font-family='"Liberation Serif", serif' font-size="8.2" text-anchor="end" fill="#000" stroke="#000" stroke-width="0.22">LYS-42</text>
<text transform="translate(238.76,515.3) rotate(-90) scale(1,0.86)" font-family='"Liberation Serif", serif' font-size="8.2" text-anchor="end" fill="#000" stroke="#000" stroke-width="0.22">MET-85</text>
<text transform="translate(246,515.3) rotate(-90) scale(1,0.86)" font-family='"Liberation Serif", serif' font-size="8.2" text-anchor="end" fill="#000" stroke="#000" stroke-width="0.22">SER-86</text>
<text transform="translate(253.24,515.3) rotate(-90) scale(1,0.86)" font-family='"Liberation Serif", serif' font-size="8.2" text-anchor="end" fill="#000" stroke="#000" stroke-width="0.22">LYS-87</text>
<text transform="translate(260.48,515.3) rotate(-90) scale(1,0.86)" font-family='"Liberation Serif", serif' font-size="8.2" text-anchor="end" fill="#000" stroke="#000" stroke-width="0.22">GLY-88</text>
<text transform="translate(267.72,515.3) rotate(-90) scale(1,0.86)" font-family='"Liberation Serif", serif' font-size="8.2" text-anchor="end" fill="#000" stroke="#000" stroke-width="0.22">SER-89</text>
<text transform="translate(274.96,515.3) rotate(-90) scale(1,0.86)" font-family='"Liberation Serif", serif' font-size="8.2" text-anchor="end" fill="#000" stroke="#000" stroke-width="0.22">LEU-91</text>
<text transform="translate(282.2,515.3) rotate(-90) scale(1,0.86)" font-family='"Liberation Serif", serif' font-size="8.2" text-anchor="end" fill="#000" stroke="#000" stroke-width="0.22">ASP-92</text>
<text transform="translate(289.44,515.3) rotate(-90) scale(1,0.86)" font-family='"Liberation Serif", serif' font-size="8.2" text-anchor="end" fill="#000" stroke="#000" stroke-width="0.22">LYS-95</text>
<text transform="translate(296.68,515.3) rotate(-90) scale(1,0.86)" font-family='"Liberation Serif", serif' font-size="8.2" text-anchor="end" fill="#000" stroke="#000" stroke-width="0.22">ARG-129</text>
<text transform="translate(303.92,515.3) rotate(-90) scale(1,0.86)" font-family='"Liberation Serif", serif' font-size="8.2" text-anchor="end" fill="#000" stroke="#000" stroke-width="0.22">ASP-130</text>
<text transform="translate(311.16,515.3) rotate(-90) scale(1,0.86)" font-family='"Liberation Serif", serif' font-size="8.2" text-anchor="end" fill="#000" stroke="#000" stroke-width="0.22">ARG-132</text>
<text transform="translate(318.4,515.3) rotate(-90) scale(1,0.86)" font-family='"Liberation Serif", serif' font-size="8.2" text-anchor="end" fill="#000" stroke="#000" stroke-width="0.22">ALA-133</text>
<text transform="translate(325.64,515.3) rotate(-90) scale(1,0.86)" font-family='"Liberation Serif", serif' font-size="8.2" text-anchor="end" fill="#000" stroke="#000" stroke-width="0.22">ALA-134</text>
<text transform="translate(332.88,515.3) rotate(-90) scale(1,0.86)" font-family='"Liberation Serif", serif' font-size="8.2" text-anchor="end" fill="#000" stroke="#000" stroke-width="0.22">ASN-135</text>
<text transform="translate(340.12,515.3) rotate(-90) scale(1,0.86)" font-family='"Liberation Serif", serif' font-size="8.2" text-anchor="end" fill="#000" stroke="#000" stroke-width="0.22">LEU-137</text>
<text transform="translate(347.36,515.3) rotate(-90) scale(1,0.86)" font-family='"Liberation Serif", serif' font-size="8.2" text-anchor="end" fill="#000" stroke="#000" stroke-width="0.22">ASP-148</text>
<text transform="translate(354.6,515.3) rotate(-90) scale(1,0.86)" font-family='"Liberation Serif", serif' font-size="8.2" text-anchor="end" fill="#000" stroke="#000" stroke-width="0.22">LEU-151</text>
<text transform="translate(361.84,515.3) rotate(-90) scale(1,0.86)" font-family='"Liberation Serif", serif' font-size="8.2" text-anchor="end" fill="#000" stroke="#000" stroke-width="0.22">ALA-152</text>
<text transform="translate(369.08,515.3) rotate(-90) scale(1,0.86)" font-family='"Liberation Serif", serif' font-size="8.2" text-anchor="end" fill="#000" stroke="#000" stroke-width="0.22">ARG-153</text>
<text transform="translate(376.32,515.3) rotate(-90) scale(1,0.86)" font-family='"Liberation Serif", serif' font-size="8.2" text-anchor="end" fill="#000" stroke="#000" stroke-width="0.22">ILE-155</text>
<text transform="translate(383.56,515.3) rotate(-90) scale(1,0.86)" font-family='"Liberation Serif", serif' font-size="8.2" text-anchor="end" fill="#000" stroke="#000" stroke-width="0.22">GLU-156</text>
<text transform="translate(390.8,515.3) rotate(-90) scale(1,0.86)" font-family='"Liberation Serif", serif' font-size="8.2" text-anchor="end" fill="#000" stroke="#000" stroke-width="0.22">ASP-157</text>
<text transform="translate(398.04,515.3) rotate(-90) scale(1,0.86)" font-family='"Liberation Serif", serif' font-size="8.2" text-anchor="end" fill="#000" stroke="#000" stroke-width="0.22">ASN-158</text>
<text transform="translate(405.28,515.3) rotate(-90) scale(1,0.86)" font-family='"Liberation Serif", serif' font-size="8.2" text-anchor="end" fill="#000" stroke="#000" stroke-width="0.22">THR-161</text>
<text transform="translate(412.52,515.3) rotate(-90) scale(1,0.86)" font-family='"Liberation Serif", serif' font-size="8.2" text-anchor="end" fill="#000" stroke="#000" stroke-width="0.22">ALA-162</text>
<text transform="translate(419.76,515.3) rotate(-90) scale(1,0.86)" font-family='"Liberation Serif", serif' font-size="8.2" text-anchor="end" fill="#000" stroke="#000" stroke-width="0.22">ARG-163</text>
<text transform="translate(427,515.3) rotate(-90) scale(1,0.86)" font-family='"Liberation Serif", serif' font-size="8.2" text-anchor="end" fill="#000" stroke="#000" stroke-width="0.22">GLN-164</text>
<text transform="translate(434.24,515.3) rotate(-90) scale(1,0.86)" font-family='"Liberation Serif", serif' font-size="8.2" text-anchor="end" fill="#000" stroke="#000" stroke-width="0.22">PHE-165</text>
<text transform="translate(441.48,515.3) rotate(-90) scale(1,0.86)" font-family='"Liberation Serif", serif' font-size="8.2" text-anchor="end" fill="#000" stroke="#000" stroke-width="0.22">PRO-166</text>
<text transform="translate(448.72,515.3) rotate(-90) scale(1,0.86)" font-family='"Liberation Serif", serif' font-size="8.2" text-anchor="end" fill="#000" stroke="#000" stroke-width="0.22">ILE-167</text>
<text transform="translate(455.96,515.3) rotate(-90) scale(1,0.86)" font-family='"Liberation Serif", serif' font-size="8.2" text-anchor="end" fill="#000" stroke="#000" stroke-width="0.22">LYS-168</text>
<text transform="translate(463.2,515.3) rotate(-90) scale(1,0.86)" font-family='"Liberation Serif", serif' font-size="8.2" text-anchor="end" fill="#000" stroke="#000" stroke-width="0.22">TRP-169</text>
<text transform="translate(470.44,515.3) rotate(-90) scale(1,0.86)" font-family='"Liberation Serif", serif' font-size="8.2" text-anchor="end" fill="#000" stroke="#000" stroke-width="0.22">THR-170</text>
<text transform="translate(477.68,515.3) rotate(-90) scale(1,0.86)" font-family='"Liberation Serif", serif' font-size="8.2" text-anchor="end" fill="#000" stroke="#000" stroke-width="0.22">ALA-174</text>
<text transform="translate(484.92,515.3) rotate(-90) scale(1,0.86)" font-family='"Liberation Serif", serif' font-size="8.2" text-anchor="end" fill="#000" stroke="#000" stroke-width="0.22">PHE-180</text>
<text transform="translate(492.16,515.3) rotate(-90) scale(1,0.86)" font-family='"Liberation Serif", serif' font-size="8.2" text-anchor="end" fill="#000" stroke="#000" stroke-width="0.22">GLU-195</text>
<text transform="translate(499.4,515.3) rotate(-90) scale(1,0.86)" font-family='"Liberation Serif", serif' font-size="8.2" text-anchor="end" fill="#000" stroke="#000" stroke-width="0.22">GLY-200</text>
<text transform="translate(506.64,515.3) rotate(-90) scale(1,0.86)" font-family='"Liberation Serif", serif' font-size="8.2" text-anchor="end" fill="#000" stroke="#000" stroke-width="0.22">ARG-201</text>
<text transform="translate(513.88,515.3) rotate(-90) scale(1,0.86)" font-family='"Liberation Serif", serif' font-size="8.2" text-anchor="end" fill="#000" stroke="#000" stroke-width="0.22">VAL-202</text>
<text transform="translate(521.12,515.3) rotate(-90) scale(1,0.86)" font-family='"Liberation Serif", serif' font-size="8.2" text-anchor="end" fill="#000" stroke="#000" stroke-width="0.22">GLY-206</text>
<text transform="translate(528.36,515.3) rotate(-90) scale(1,0.86)" font-family='"Liberation Serif", serif' font-size="8.2" text-anchor="end" fill="#000" stroke="#000" stroke-width="0.22">MET-207</text>
<text transform="translate(535.6,515.3) rotate(-90) scale(1,0.86)" font-family='"Liberation Serif", serif' font-size="8.2" text-anchor="end" fill="#000" stroke="#000" stroke-width="0.22">VAL-208</text>
<text transform="translate(542.84,515.3) rotate(-90) scale(1,0.86)" font-family='"Liberation Serif", serif' font-size="8.2" text-anchor="end" fill="#000" stroke="#000" stroke-width="0.22">ASN-209</text>
<text transform="translate(550.08,515.3) rotate(-90) scale(1,0.86)" font-family='"Liberation Serif", serif' font-size="8.2" text-anchor="end" fill="#000" stroke="#000" stroke-width="0.22">ARG-210</text>
<text transform="translate(94.6,296.6) scale(1.15,1)" font-family='"Liberation Serif", serif' font-size="21" fill="#111">C</text></svg>
</body></html>
